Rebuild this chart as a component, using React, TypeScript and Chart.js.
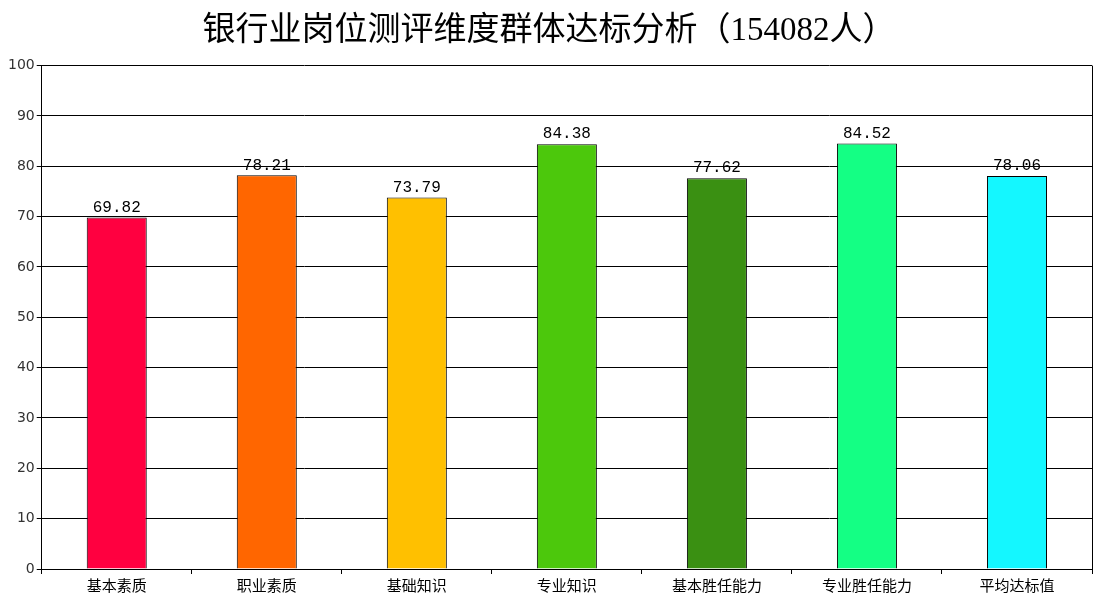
import { useEffect, useRef } from 'react';
import { Chart, registerables } from 'chart.js';

Chart.register(...registerables);

const categories = ['基本素质', '职业素质', '基础知识', '专业知识', '基本胜任能力', '专业胜任能力', '平均达标值'];
const scores = [69.82, 78.21, 73.79, 84.38, 77.62, 84.52, 78.06];
const barColors = ['#FF0040', '#FF6600', '#FFC000', '#4CC80C', '#3A9012', '#14FF84', '#14F7FF'];
const chartTitle = '银行业岗位测评维度群体达标分析（154082人）';

const valueLabels = {
  id: 'valueLabels',
  afterDatasetsDraw(chart: Chart) {
    const ctx = chart.ctx;
    const meta = chart.getDatasetMeta(0);
    ctx.save();
    ctx.font = '16px "Liberation Mono", "DejaVu Sans Mono", monospace';
    ctx.fillStyle = '#000';
    ctx.textAlign = 'center';
    ctx.textBaseline = 'bottom';
    meta.data.forEach((bar: any, i: number) => {
      ctx.fillText(scores[i].toFixed(2), bar.x, bar.y - 2);
    });
    ctx.restore();
  },
};

const frame = {
  id: 'frame',
  afterDraw(chart: Chart) {
    const { ctx, chartArea } = chart;
    ctx.save();
    ctx.strokeStyle = '#000';
    ctx.lineWidth = 1;
    ctx.beginPath();
    ctx.moveTo(Math.round(chartArea.right) + 0.5, chartArea.top);
    ctx.lineTo(Math.round(chartArea.right) + 0.5, chartArea.bottom);
    ctx.stroke();
    ctx.restore();
  },
};

export default function App() {
  const canvasRef = useRef<HTMLCanvasElement>(null);
  const chartRef = useRef<Chart | null>(null);

  useEffect(() => {
    document.body.style.margin = '0';
    if (!canvasRef.current) return;
    chartRef.current = new Chart(canvasRef.current, {
      type: 'bar',
      data: {
        labels: categories,
        datasets: [{
          data: scores,
          backgroundColor: barColors,
          borderColor: '#000',
          borderWidth: 1,
          categoryPercentage: 1,
          barPercentage: 0.4,
        }],
      },
      options: {
        responsive: false,
        animation: false,
        layout: { padding: { left: 6, right: 8, top: 4, bottom: 4 } },
        plugins: {
          legend: { display: false },
          tooltip: { enabled: false },
          title: {
            display: true,
            text: chartTitle,
            color: '#000',
            font: { family: '"Liberation Serif", "Noto Sans CJK SC", serif', size: 33, weight: 'normal' },
            padding: { top: 8, bottom: 14 },
          },
        },
        scales: {
          x: {
            grid: { display: true, drawOnChartArea: false, color: '#000', tickLength: 5, offset: true },
            border: { color: '#000' },
            ticks: { color: '#000', font: { family: '"Noto Sans CJK SC", sans-serif', size: 15 }, padding: 2 },
          },
          y: {
            min: 0,
            max: 100,
            ticks: { stepSize: 10, color: '#333', font: { family: '"DejaVu Sans", sans-serif', size: 14 }, padding: 2 },
            grid: { color: '#000', tickLength: 5 },
            border: { color: '#000' },
          },
        },
      },
      plugins: [valueLabels, frame],
    });
    return () => {
      chartRef.current?.destroy();
    };
  }, []);

  return (
    <div style={{ width: 1100, height: 600, background: '#fff' }}>
      <canvas ref={canvasRef} width={1100} height={600}></canvas>
    </div>
  );
}
